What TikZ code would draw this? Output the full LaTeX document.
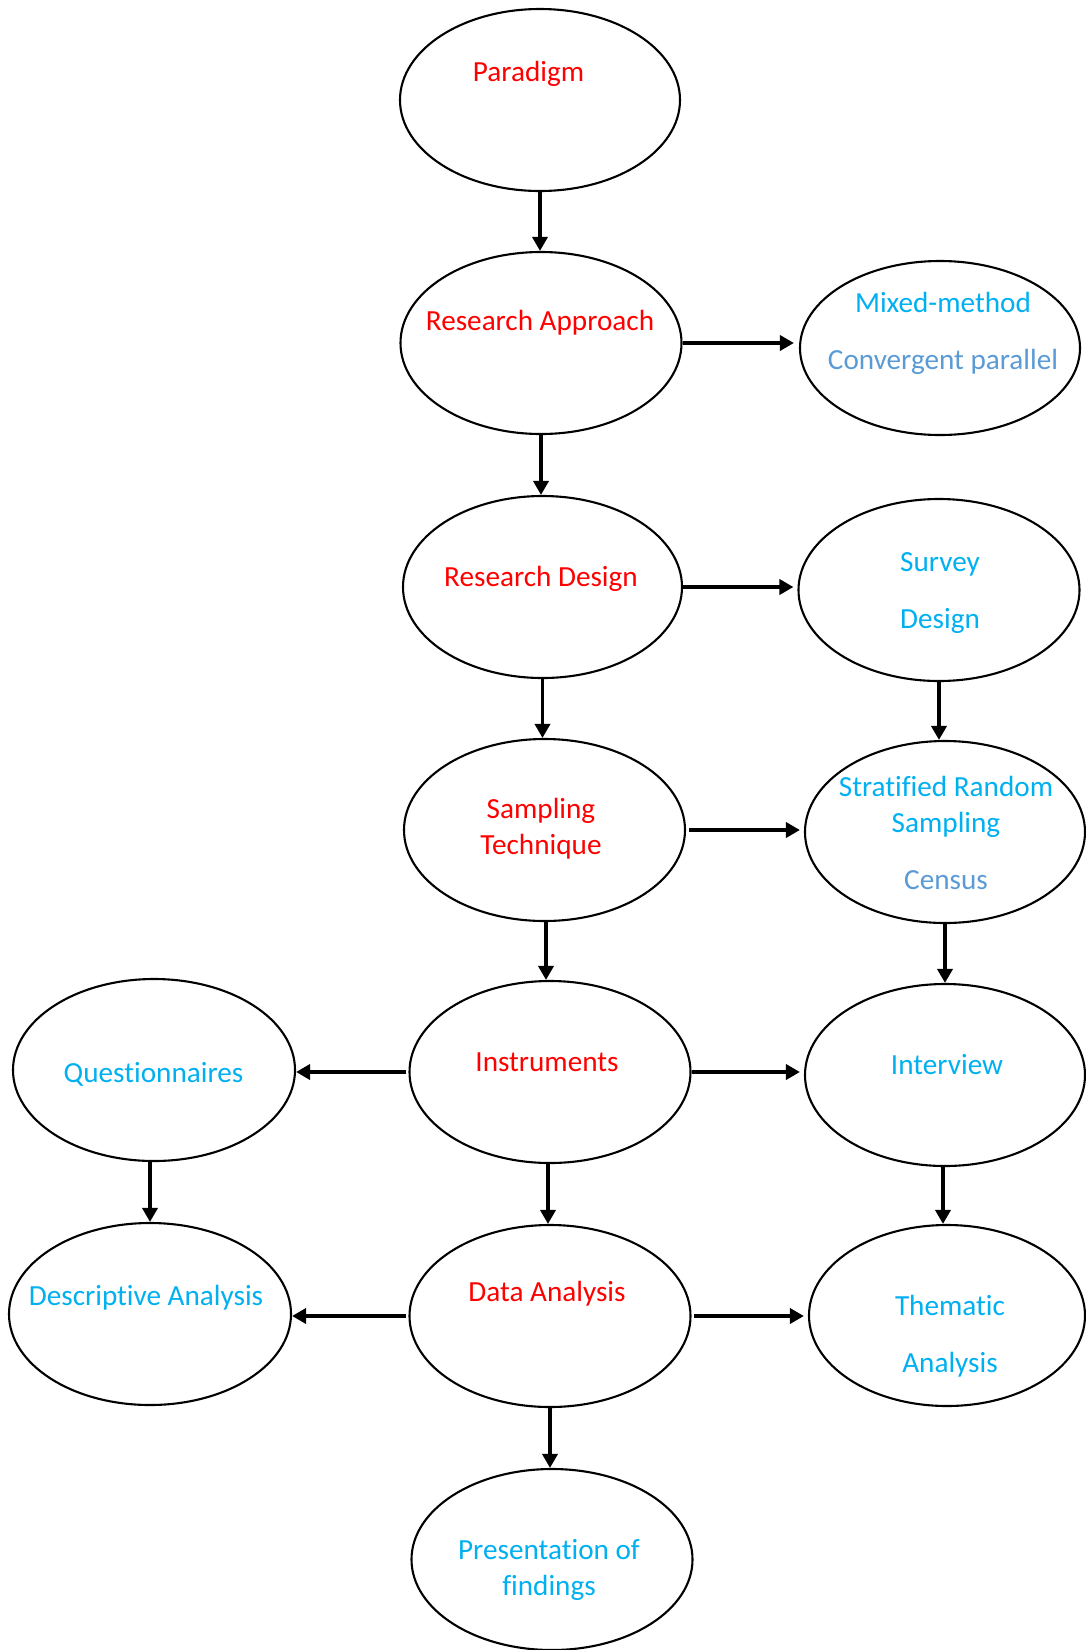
\documentclass[tikz,border=0pt]{standalone}
\usepackage{fontspec}
\setmainfont[Ligatures={NoCommon}]{Carlito}
\usetikzlibrary{shapes.geometric,arrows.meta}
\definecolor{tred}{HTML}{FF0000}
\definecolor{tcyan}{HTML}{00B0F0}
\definecolor{tblue}{HTML}{5B9BD5}
\tikzset{
  oval/.style={ellipse, draw=black, line width=2.1pt, minimum width=281pt, minimum height=182pt, inner sep=0pt},
  arr/.style={line width=3.6pt, -{Triangle[length=14pt,width=15pt]}},
  txt/.style={anchor=base, inner sep=0pt, font=\fontsize{29.2}{35}\selectfont},
  rtxt/.style={txt, text=tred},
  ctxt/.style={txt, text=tcyan},
  btxt/.style={txt, text=tblue}
}
\begin{document}
\begin{tikzpicture}[x=1pt,y=-1pt]
\useasboundingbox[fill=white] (0,0) rectangle (1086,1650);
% ellipses
\node[oval, minimum width=280pt] (par) at (540,100) {};
\node[oval] (ra) at (541,343) {};
\node[oval, minimum width=280pt, minimum height=174pt] (mix) at (940,348) {};
\node[oval, minimum width=279pt] (rd) at (542.5,587) {};
\node[oval] (sur) at (939,590) {};
\node[oval] (st) at (544.5,830) {};
\node[oval, minimum width=280pt] (strat) at (945,832) {};
\node[oval] (ins) at (550,1072) {};
\node[oval, minimum width=282pt] (que) at (154,1070) {};
\node[oval, minimum width=280pt] (int) at (945,1075) {};
\node[oval] (da) at (550,1316) {};
\node[oval, minimum width=282pt] (des) at (150,1314) {};
\node[oval, minimum width=276pt, minimum height=181pt] (the) at (947,1315.5) {};
\node[oval, minimum height=181pt] (pre) at (552,1559.5) {};
% texts
\node[rtxt] (tpar) at (528.5,81) {Paradigm};
\node[rtxt] (tra) at (540,330.5) {Research Approach};
\node[ctxt] (tmix1) at (943,312.5) {Mixed-method};
\node[btxt] (tmix2) at (943,369.5) {Convergent parallel};
\node[rtxt] (trd) at (541,586) {Research Design};
\node[ctxt] (tsur1) at (940,571.5) {Survey};
\node[ctxt] (tsur2) at (940,628) {Design};
\node[rtxt] (tst1) at (541,818.5) {Sampling};
\node[rtxt] (tst2) at (541,854.5) {Technique};
\node[ctxt] (tstrat1) at (946,796.5) {Stratified Random};
\node[ctxt] (tstrat2) at (946,832.5) {Sampling};
\node[btxt] (tstrat3) at (946,889.5) {Census};
\node[rtxt] (tins) at (547,1071) {Instruments};
\node[ctxt] (tque) at (153.5,1082) {Questionnaires};
\node[ctxt] (tint) at (947,1074.5) {Interview};
\node[rtxt] (tda) at (547,1301.5) {Data Analysis};
\node[ctxt] (tdes) at (146,1305) {Descriptive Analysis};
\node[ctxt] (tthe1) at (950,1315.5) {Thematic};
\node[ctxt] (tthe2) at (950,1372) {Analysis};
\node[ctxt] (tpre1) at (549,1559.5) {Presentation of};
\node[ctxt] (tpre2) at (549,1595.5) {findings};
% vertical connectors
\draw[arr] (par.south) -- (par.south |- ra.north);
\draw[arr] (ra.south) -- (ra.south |- rd.north);
\draw[arr] (rd.south) -- (rd.south |- st.north);
\draw[arr] ([xshift=1.5pt]st.south) -- ([xshift=1.5pt]st.south |- ins.north);
\draw[arr] ([xshift=-2pt]ins.south) -- ([xshift=-2pt]ins.south |- da.north);
\draw[arr] (da.south) -- (da.south |- pre.north);
\draw[arr] (sur.south) -- (sur.south |- strat.north);
\draw[arr] (strat.south) -- (strat.south |- int.north);
\draw[arr] ([xshift=-2pt]int.south) -- ([xshift=-2pt]int.south |- the.north);
\draw[arr] ([xshift=-4pt]que.south) -- ([xshift=-4pt]que.south |- des.north);
% horizontal connectors
\draw[arr, shorten >=5pt] (ra.east) -- (ra.east -| mix.west);
\draw[arr, shorten >=4pt] (rd.east) -- (rd.east -| sur.west);
\draw[arr, shorten >=4pt] ([xshift=3pt]st.east) -- (st.east -| strat.west);
\draw[arr] ([xshift=-2pt]ins.west) -- (ins.west -| que.east);
\draw[arr, shorten >=4pt] (ins.east) -- (ins.east -| int.west);
\draw[arr] ([xshift=-2pt]da.west) -- (da.west -| des.east);
\draw[arr, shorten >=4pt] ([xshift=2pt]da.east) -- (da.east -| the.west);
\end{tikzpicture}
\end{document}
